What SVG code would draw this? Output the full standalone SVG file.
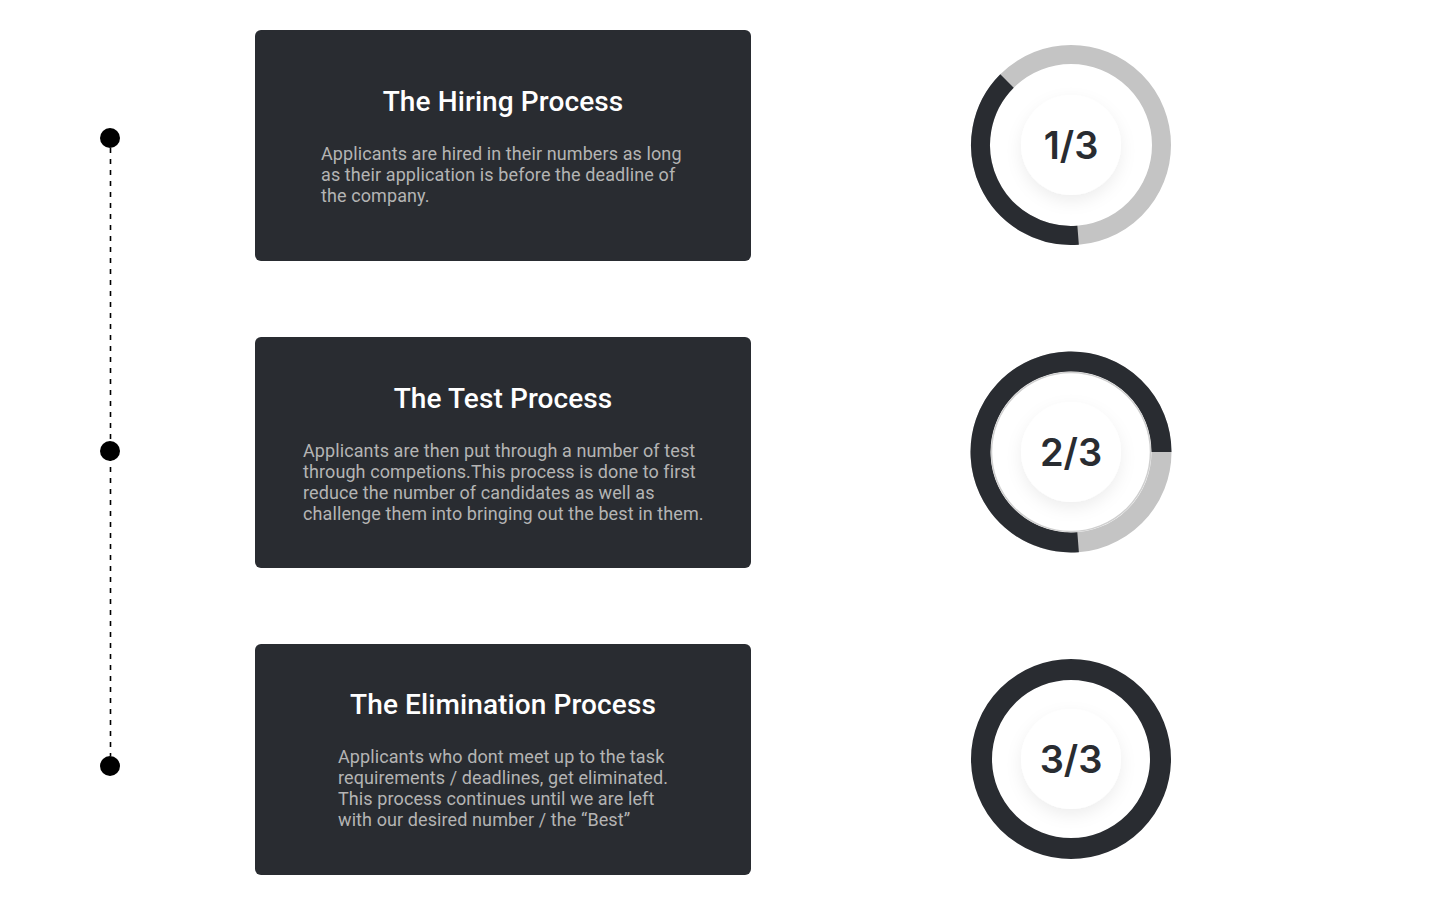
<svg xmlns="http://www.w3.org/2000/svg" width="1440" height="905" viewBox="0 0 1440 905">
  <style>
    .card { fill: #292c31; }
    .title { font-family: Roboto, "Liberation Sans", sans-serif; font-weight: 500; font-size: 28px; letter-spacing: 0.1px; fill: #ffffff; text-anchor: middle; }
    .body { font-family: Roboto, "Liberation Sans", sans-serif; font-size: 18px; letter-spacing: 0.1px; fill: #b4b4b4; }
    .count { font-family: Inter, Roboto, "Liberation Sans", sans-serif; font-weight: 600; font-size: 38px; fill: #292c31; text-anchor: middle; }
    .track { fill: none; stroke: #c4c4c4; stroke-width: 19; }
    .done { fill: none; stroke: #292c31; stroke-width: 19; }
    .dot { fill: #000000; }
  </style>
  <defs>
    <filter id="soft" x="-50%" y="-50%" width="200%" height="200%">
      <feGaussianBlur in="SourceAlpha" stdDeviation="8"/>
      <feOffset dy="6" result="b"/>
      <feFlood flood-color="#000000" flood-opacity="0.07"/>
      <feComposite in2="b" operator="in"/>
      <feMerge>
        <feMergeNode/>
        <feMergeNode in="SourceGraphic"/>
      </feMerge>
    </filter>
  </defs>

  <rect width="1440" height="905" fill="#ffffff"/>

  <!-- timeline -->
  <g id="connectors">
    <line x1="110.5" y1="148" x2="110.5" y2="756" stroke="#000" stroke-width="1.6" stroke-dasharray="5 6"/>
  </g>
  <g id="dot-1"><circle class="dot" cx="110" cy="138" r="10"/></g>
  <g id="dot-2"><circle class="dot" cx="110" cy="451" r="10"/></g>
  <g id="dot-3"><circle class="dot" cx="110" cy="766" r="10"/></g>

  <!-- step cards -->
  <g id="card-hiring">
    <rect class="card" x="255" y="30" width="496" height="231" rx="6"/>
    <text class="title" x="503" y="111">The Hiring Process</text>
    <text class="body" x="321" y="160">Applicants are hired in their numbers as long</text>
    <text class="body" x="321" y="181">as their application is before the deadline of</text>
    <text class="body" x="321" y="202">the company.</text>
  </g>
  <g id="card-test">
    <rect class="card" x="255" y="337" width="496" height="231" rx="6"/>
    <text class="title" x="503" y="408">The Test Process</text>
    <text class="body" x="303" y="457">Applicants are then put through a number of test</text>
    <text class="body" x="303" y="478">through competions.This process is done to first</text>
    <text class="body" x="303" y="499">reduce the number of candidates as well as</text>
    <text class="body" x="303" y="520">challenge them into bringing out the best in them.</text>
  </g>
  <g id="card-elimination">
    <rect class="card" x="255" y="644" width="496" height="231" rx="6"/>
    <text class="title" x="503" y="714">The Elimination Process</text>
    <text class="body" x="338" y="763">Applicants who dont meet up to the task</text>
    <text class="body" x="338" y="784">requirements / deadlines, get eliminated.</text>
    <text class="body" x="338" y="805">This process continues until we are left</text>
    <text class="body" x="338" y="826">with our desired number / the “Best”</text>
  </g>

  <!-- progress rings -->
  <g id="ring-1" transform="translate(1071 145)">
    <circle class="track" r="90.5"/>
    <!-- arc from bottom (85.5deg) clockwise to upper-left (225deg) -->
    <path class="done" d="M 7.1 90.2 A 90.5 90.5 0 0 1 -64 -64"/>
    <circle r="50" fill="#ffffff" filter="url(#soft)"/>
    <text class="count" y="14">1/3</text>
  </g>
  <g id="ring-2" transform="translate(1071 452)">
    <circle class="track" r="90.5" style="stroke-width:20"/>
    <path class="done" style="stroke-width:20" d="M 7.1 90.2 A 90.5 90.5 0 1 1 90.5 0"/>
    <circle r="79.5" fill="none" stroke="#cfcfcf" stroke-width="1.5"/>
    <circle r="50" fill="#ffffff" filter="url(#soft)"/>
    <text class="count" y="14">2/3</text>
  </g>
  <g id="ring-3" transform="translate(1071 759)">
    <circle class="done" r="89.5" style="stroke-width:21"/>
    <circle r="50" fill="#ffffff" filter="url(#soft)"/>
    <text class="count" y="14">3/3</text>
  </g>
</svg>
